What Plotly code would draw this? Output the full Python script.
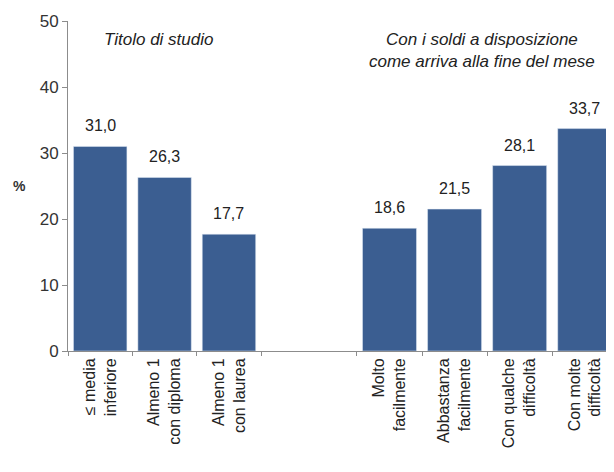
import plotly.graph_objects as go

# Data
cat_studio = ["≤ media<br>inferiore", "Almeno 1<br>con diploma", "Almeno 1<br>con laurea"]
val_studio = [31.0, 26.3, 17.7]
cat_soldi = ["Molto<br>facilmente", "Abbastanza<br>facilmente", "Con qualche<br>difficoltà", "Con molte<br>difficoltà"]
val_soldi = [18.6, 21.5, 28.1, 33.7]
y_ticks = [0, 10, 20, 30, 40, 50]

BAR = "#3B5E91"
AX = "#8C8C8C"
FONT = "Liberation Sans, Arial, sans-serif"

# the page body has an 8px margin; compensate so the plot lands where the reference has it
OFF = 8
W, H = 606, 456
ML, MR, MT, MB = 60, 0, 13, 113
# right gap so the last slot ends at the window edge
g_left = 0.74
g_right = 0.74
n_left = len(cat_studio) + g_left
n_right = len(cat_soldi) + g_right
split = n_left / (n_left + n_right)

fig = go.Figure()
fig.add_trace(go.Bar(x=cat_studio, y=val_studio, marker_color=BAR, xaxis="x", yaxis="y",
                     hoverinfo="x+y", showlegend=False))
fig.add_trace(go.Bar(x=cat_soldi, y=val_soldi, marker_color=BAR, xaxis="x2", yaxis="y",
                     hoverinfo="x+y", showlegend=False))

lab_font = dict(size=16, color="#222222", family=FONT)
annotations = []
for c, v in zip(cat_studio, val_studio):
    annotations.append(dict(x=c, y=v, xref="x", yref="y", text=f"{v:.1f}".replace(".", ","),
                            showarrow=False, xanchor="center", yanchor="bottom", yshift=10,
                            font=lab_font))
for c, v in zip(cat_soldi, val_soldi):
    annotations.append(dict(x=c, y=v, xref="x2", yref="y", text=f"{v:.1f}".replace(".", ","),
                            showarrow=False, xanchor="center", yanchor="bottom", yshift=10,
                            font=lab_font))

plot_w = W - ML - MR
plot_h = H - MT - MB


def px_x(px):
    return (px - OFF - ML) / plot_w


def px_y(py):
    return (OFF + H - MB - py) / plot_h


title_font = dict(size=17, color="#222222", family=FONT)
annotations.append(dict(x=px_x(158), y=px_y(39), xref="paper", yref="paper",
                        xanchor="center", yanchor="middle",
                        text="<i>Titolo di studio</i>", showarrow=False, font=title_font))
annotations.append(dict(x=px_x(482), y=px_y(50), xref="paper", yref="paper",
                        xanchor="center", yanchor="middle",
                        text="<i>Con i soldi a disposizione<br>come arriva alla fine del mese</i>",
                        showarrow=False, font=title_font))
annotations.append(dict(x=px_x(19), y=px_y(186), xref="paper", yref="paper",
                        xanchor="center", yanchor="middle",
                        text="<b>%</b>", showarrow=False,
                        font=dict(size=14, color="#333333", family=FONT)))

xcommon = dict(type="category", tickson="boundaries", ticks="outside", ticklen=4, tickcolor=AX,
               showline=True, linecolor=AX, linewidth=1, tickangle=-90,
               tickfont=dict(size=16, color="#222222"), showgrid=False, fixedrange=True,
               automargin=False)

fig.update_layout(
    width=W, height=H,
    margin=dict(l=ML, r=MR, t=MT, b=MB, autoexpand=False),
    plot_bgcolor="white", paper_bgcolor="white",
    bargap=0.17,
    font=dict(family=FONT, size=15, color="#333333"),
    xaxis=dict(domain=[0, split], range=[-0.5, len(cat_studio) - 0.5 + g_left], **xcommon),
    xaxis2=dict(domain=[split, 1], anchor="y",
                range=[-0.5 - g_right, len(cat_soldi) - 0.5 - 0.05], **xcommon),
    yaxis=dict(range=[0, 50], tickvals=y_ticks, ticks="outside", ticklen=5, tickcolor=AX,
               showline=True, linecolor=AX, linewidth=1, showgrid=False, zeroline=False,
               tickfont=dict(size=17, color="#333333"), fixedrange=True, automargin=False),
    annotations=annotations,
)

fig.write_html("out.html")
